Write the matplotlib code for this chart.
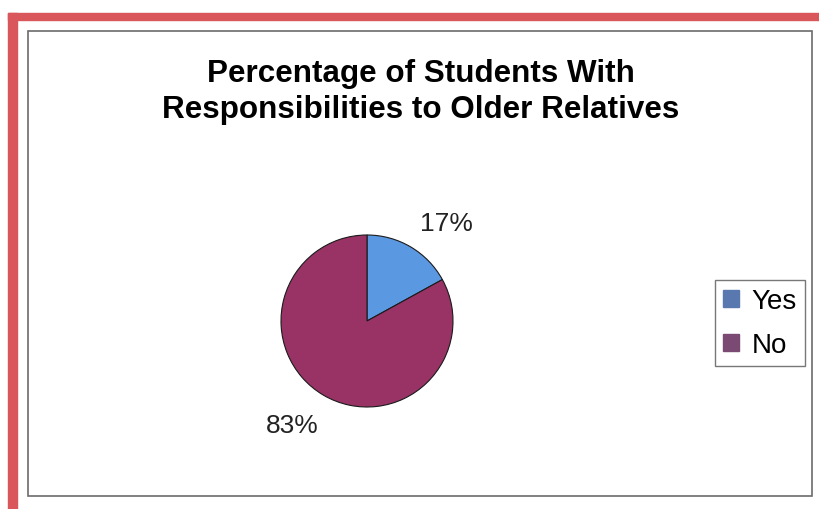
import matplotlib.pyplot as plt
from matplotlib.patches import Rectangle

plt.rcParams["font.family"] = ["Liberation Sans", "DejaVu Sans"]

# survey answers
labels = ["Yes", "No"]
shares = [17, 83]
colors = ["#5b98e2", "#993366"]
legend_colors = ["#5a78b0", "#7a4a72"]

W, H = 820, 510
fig = plt.figure(figsize=(W / 100, H / 100), dpi=100)

# outer red frame (left + top) and inner grey chart border
fig.patches.append(Rectangle((8 / W, 0), 9 / W, (H - 14) / H, transform=fig.transFigure,
                             color="#d9575a", zorder=0))
fig.patches.append(Rectangle((8 / W, (H - 21) / H), (W - 8) / W, 7 / H, transform=fig.transFigure,
                             color="#d9575a", zorder=0))
fig.patches.append(Rectangle((28 / W, (H - 497) / H), 784 / W, 465 / H, transform=fig.transFigure,
                             fill=False, edgecolor="#6b6b6b", lw=1.2, zorder=1))

fig.text(421 / W, 1 - 92 / H, "Percentage of Students With\nResponsibilities to Older Relatives",
         ha="center", va="center", fontsize=22.6, fontweight="bold", linespacing=1.3)

cx, cy, r = 367, 322, 86
ax = fig.add_axes([(cx - r) / W, (H - cy - r) / H, 2 * r / W, 2 * r / H])
wedges, _, pcts = ax.pie(shares, colors=colors, startangle=90, counterclock=False,
                         autopct="%d%%", pctdistance=1.45,
                         wedgeprops=dict(edgecolor="#1a1a1a", linewidth=0.8),
                         textprops=dict(fontsize=19, color="#222222"))
ax.set_xlim(-1, 1)
ax.set_ylim(-1, 1)
ax.set_aspect("equal")
# nudge the percentages a bit
pcts[0].set_position((0.92, 1.14))
pcts[1].set_position((-0.87, -1.21))

handles = [Rectangle((0, 0), 1, 1, color=c) for c in legend_colors]
leg = fig.legend(handles, labels, loc="center", bbox_to_anchor=(760 / W, 1 - 324 / H),
                 fontsize=20, frameon=True, fancybox=False, edgecolor="#555555",
                 handlelength=0.55, handleheight=0.55, handletextpad=0.45,
                 labelspacing=0.65, borderpad=0.3, borderaxespad=0)
leg.get_frame().set_linewidth(1.0)

fig.savefig("out.png", dpi=100, facecolor="white")
